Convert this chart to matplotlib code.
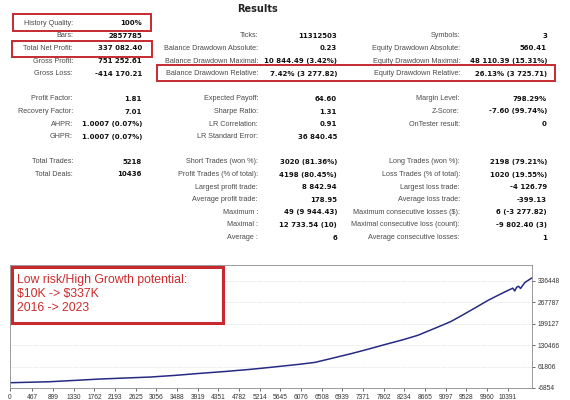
import numpy as np
import matplotlib
matplotlib.use('Agg')
import matplotlib.pyplot as plt
from matplotlib.patches import Rectangle

# ---- table data (MT5 tester report) ----
col1_labels = ['History Quality:', 'Bars:', 'Total Net Profit:', 'Gross Profit:', 'Gross Loss:', '',
               'Profit Factor:', 'Recovery Factor:', 'AHPR:', 'GHPR:', '',
               'Total Trades:', 'Total Deals:']
col1_values = ['100%', '2857785', '337 082.40', '751 252.61', '-414 170.21', '',
               '1.81', '7.01', '1.0007 (0.07%)', '1.0007 (0.07%)', '',
               '5218', '10436']

col2_labels = ['', 'Ticks:', 'Balance Drawdown Absolute:', 'Balance Drawdown Maximal:',
               'Balance Drawdown Relative:', '',
               'Expected Payoff:', 'Sharpe Ratio:', 'LR Correlation:', 'LR Standard Error:', '',
               'Short Trades (won %):', 'Profit Trades (% of total):', 'Largest profit trade:',
               'Average profit trade:', 'Maximum :', 'Maximal :', 'Average :']
col2_values = ['', '11312503', '0.23', '10 844.49 (3.42%)', '7.42% (3 277.82)', '',
               '64.60', '1.31', '0.91', '36 840.45', '',
               '3020 (81.36%)', '4198 (80.45%)', '8 842.94', '178.95',
               '49 (9 944.43)', '12 733.54 (10)', '6']

col3_labels = ['', 'Symbols:', 'Equity Drawdown Absolute:', 'Equity Drawdown Maximal:',
               'Equity Drawdown Relative:', '',
               'Margin Level:', 'Z-Score:', 'OnTester result:', '', '',
               'Long Trades (won %):', 'Loss Trades (% of total):', 'Largest loss trade:',
               'Average loss trade:', 'Maximum consecutive losses ($):',
               'Maximal consecutive loss (count):', 'Average consecutive losses:']
col3_values = ['', '3', '560.41', '48 110.39 (15.31%)', '26.13% (3 725.71)', '',
               '798.29%', '-7.60 (99.74%)', '0', '', '',
               '2198 (79.21%)', '1020 (19.55%)', '-4 126.79', '-399.13',
               '6 (-3 277.82)', '-9 802.40 (3)', '1']

# ---- balance curve ----
deals = [0, 400, 835, 1300, 1879, 2400, 2923, 3450, 3967, 4500, 5011, 5400, 5742,
         6050, 6369, 6750, 7141, 7500, 7830, 8200, 8519, 8937, 9200, 9438, 9700,
         9981, 10200, 10400, 10500, 10540, 10580, 10620, 10660, 10750, 10900]
equity = [10000, 11500, 13200, 17000, 21800, 25000, 28100, 33500, 39900, 46000, 52600,
          58500, 64000, 69000, 75000, 89000, 103500, 118000, 132000, 147000, 161600,
          188000, 205000, 225000, 248000, 273000, 290000, 305000, 312000, 303000,
          315000, 318000, 311000, 330000, 345000]

xticks = [0, 467, 899, 1330, 1762, 2193, 2625, 3056, 3488, 3919, 4351, 4782, 5214,
          5645, 6076, 6508, 6939, 7371, 7802, 8234, 8665, 9097, 9528, 9960, 10391]
yticks = [-6854, 61806, 130466, 199127, 267787, 336448]

note_lines = ['Low risk/High Growth potential:', '$10K -> $337K', '2016 -> 2023']

W, H = 570, 400
RED = '#c62a2f'


def fx(x):
    return x / W


def fy(y):
    return 1 - y / H


fig = plt.figure(figsize=(5.7, 4.0), dpi=100)
fig.patch.set_facecolor('white')

fig.text(fx(257), fy(9), 'Results', ha='center', va='center', fontsize=7.0,
         fontweight='bold', family='DejaVu Sans', color='#222222')

row_y0, row_step = 23.3, 12.6
cols = [(col1_labels, col1_values, 73, 142),
        (col2_labels, col2_values, 258, 337),
        (col3_labels, col3_values, 460, 547)]
for labels, values, lx, vx in cols:
    for i, (lab, val) in enumerate(zip(labels, values)):
        y = row_y0 + i * row_step
        if lab:
            fig.text(fx(lx), fy(y), lab, ha='right', va='center', fontsize=5.2,
                     family='Liberation Sans', color='#4a4a4a')
        if val:
            fig.text(fx(vx), fy(y), val, ha='right', va='center', fontsize=5.0,
                     family='DejaVu Sans', fontweight='bold', color='#111111')

# red highlight frames
for x0, y0, x1, y1 in [(13, 14, 151, 31), (12, 41, 152, 57), (157, 65, 555, 81)]:
    fig.add_artist(Rectangle((fx(x0), fy(y1)), fx(x1 - x0), (y1 - y0) / H,
                             transform=fig.transFigure, fill=False,
                             edgecolor=RED, lw=1.4))

# ---- chart ----
ax = fig.add_axes([fx(10), fy(388), fx(522), 123 / H])
ax.plot(deals, equity, color='#262a82', lw=1.1)
ax.set_xlim(0, 10900)
ax.set_ylim(-6854, 386000)
ax.set_xticks(xticks)
ax.set_xticklabels([str(v) for v in xticks])
ax.set_xticks(xticks[1::2], minor=True)
ax.set_yticks(yticks)
ax.set_yticklabels([str(v) for v in yticks])
ax.yaxis.tick_right()
ax.tick_params(axis='both', which='major', labelsize=4.8, length=2, width=0.5,
               colors='#333333', pad=2)
ax.tick_params(axis='x', which='minor', length=0)
for lbl in ax.get_xticklabels() + ax.get_yticklabels():
    lbl.set_family('Liberation Sans')
ax.grid(True, which='minor', axis='x', color='#cfcfcf', ls=(0, (1, 1.5)), lw=0.5)
ax.grid(True, which='major', axis='y', color='#cfcfcf', ls=(0, (1, 1.5)), lw=0.5)
for sp in ax.spines.values():
    sp.set_color('#8a8a8a')
    sp.set_linewidth(0.6)

# annotation frame
fig.add_artist(Rectangle((fx(12), fy(323)), fx(211), 56 / H,
                         transform=fig.transFigure, facecolor='white',
                         edgecolor=RED, lw=2.2, zorder=5))
for i, line in enumerate(note_lines):
    fig.text(fx(17), fy(280 + i * 14), line, ha='left', va='center', fontsize=8.8,
             family='Liberation Sans', color='#cc2b2b', zorder=6, parse_math=False)

fig.savefig('out.png', dpi=100)
